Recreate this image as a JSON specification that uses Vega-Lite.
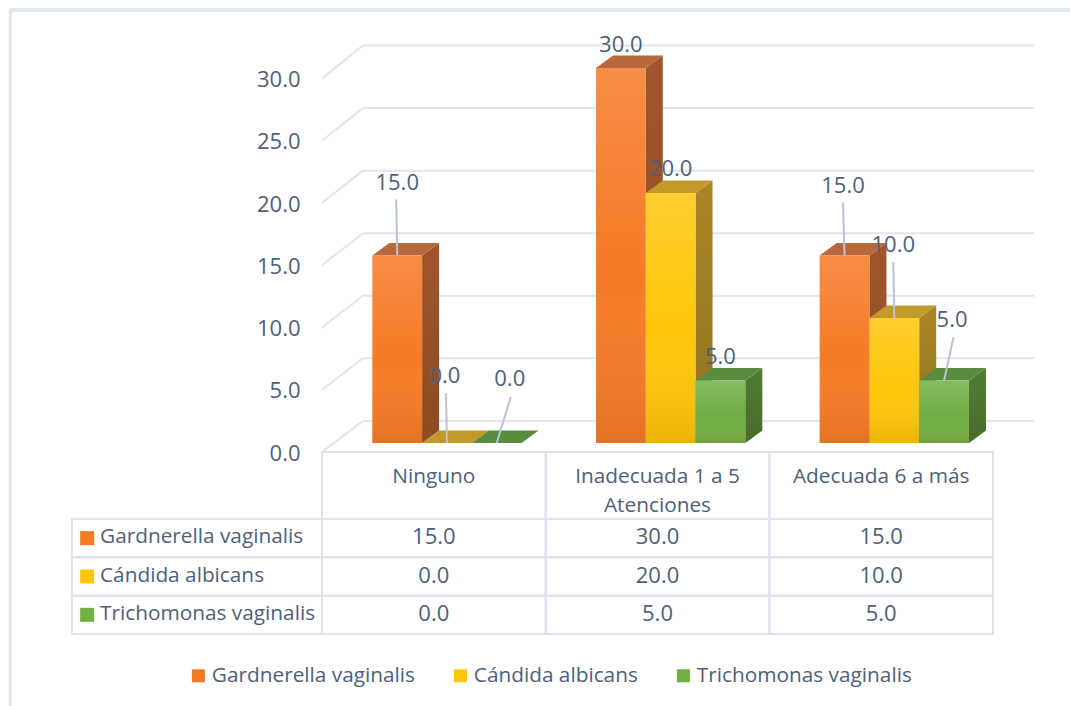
{
  "$schema": "https://vega.github.io/schema/vega-lite/v6.json",
  "width": 1070,
  "height": 706,
  "padding": 0,
  "autosize": {"type": "none"},
  "background": "white",
  "config": {
    "view": {"stroke": null},
    "font": "Open Sans",
    "text": {"font": "Open Sans", "fontSize": 20.8, "fill": "#4F6079"}
  },
  "datasets": {
    "infecciones": [
      {"atencion": "Ninguno", "germen": "Gardnerella vaginalis", "valor": 15},
      {"atencion": "Ninguno", "germen": "Cándida albicans", "valor": 0},
      {"atencion": "Ninguno", "germen": "Trichomonas vaginalis", "valor": 0},
      {"atencion": "Inadecuada 1 a 5 Atenciones", "germen": "Gardnerella vaginalis", "valor": 30},
      {"atencion": "Inadecuada 1 a 5 Atenciones", "germen": "Cándida albicans", "valor": 20},
      {"atencion": "Inadecuada 1 a 5 Atenciones", "germen": "Trichomonas vaginalis", "valor": 5},
      {"atencion": "Adecuada 6 a más", "germen": "Gardnerella vaginalis", "valor": 15},
      {"atencion": "Adecuada 6 a más", "germen": "Cándida albicans", "valor": 10},
      {"atencion": "Adecuada 6 a más", "germen": "Trichomonas vaginalis", "valor": 5}
    ],
    "marcas": [
      {"marca": 0}, {"marca": 5}, {"marca": 10}, {"marca": 15}, {"marca": 20}, {"marca": 25}, {"marca": 30}
    ]
  },
  "layer": [
    {
      "description": "Marco, paredes del gráfico y eje de valores",
      "data": {"name": "marcas"},
      "transform": [{"calculate": "datum.marca * 1.005 + 2.5", "as": "fondo"}],
      "layer": [
        {
          "mark": {"type": "rule", "stroke": "#E1E5EE", "strokeWidth": 2},
          "encoding": {
            "x": {"datum": 0, "type": "quantitative", "axis": null, "scale": {"domain": [0, 3], "range": [322, 993], "nice": false}},
            "x2": {"datum": 0.183},
            "y": {
              "field": "marca",
              "type": "quantitative",
              "scale": {"domain": [0, 30], "range": [452, 78.5], "nice": false},
              "axis": {
                "values": [0, 5, 10, 15, 20, 25, 30],
                "format": ".1f",
                "title": null,
                "orient": "left",
                "offset": -300,
                "labelPadding": 0,
                "ticks": false,
                "domain": false,
                "grid": false,
                "labelOffset": 1,
                "labelFont": "Open Sans",
                "labelFontSize": 22,
                "labelColor": "#4F6079"
              }
            },
            "y2": {"field": "fondo"}
          }
        },
        {
          "mark": {"type": "rule", "stroke": "#E3E7F0", "strokeWidth": 2.5},
          "encoding": {
            "x": {"datum": -1.394, "type": "quantitative", "axis": null},
            "x2": {"datum": 3.35},
            "y": {"datum": 35.5, "type": "quantitative"}
          }
        },
        {
          "mark": {"type": "rule", "stroke": "#E3E7F0", "strokeWidth": 2.5},
          "encoding": {
            "x": {"datum": -1.394, "type": "quantitative", "axis": null},
            "y": {"datum": 35.5, "type": "quantitative"},
            "y2": {"datum": -20.4}
          }
        },
        {
          "mark": {"type": "rule", "stroke": "#E1E5EE", "strokeWidth": 2},
          "encoding": {
            "x": {"datum": 0.183, "type": "quantitative", "axis": null},
            "x2": {"datum": 3.184},
            "y": {"field": "fondo", "type": "quantitative"}
          }
        }
      ]
    },
    {
      "description": "Barras en perspectiva: caras laterales, superiores y frontales, con sus etiquetas",
      "data": {"name": "infecciones"},
      "transform": [
        {"calculate": "indexof(['Ninguno','Inadecuada 1 a 5 Atenciones','Adecuada 6 a más'], datum.atencion)", "as": "c"},
        {"calculate": "indexof(['Gardnerella vaginalis','Cándida albicans','Trichomonas vaginalis'], datum.germen)", "as": "s"},
        {"calculate": "datum.c + 0.225 + datum.s * 0.2225", "as": "xi"},
        {"calculate": "datum.xi + 0.2225", "as": "xd"},
        {"calculate": "datum.xi + 0.11125", "as": "xm"},
        {"calculate": "datum.atencion + datum.germen", "as": "clave"}
      ],
      "resolve": {"scale": {"color": "independent"}},
      "layer": [
        {
          "transform": [
            {"calculate": "[0, 1]", "as": "p"},
            {"flatten": ["p"]},
            {"calculate": "datum.xd + datum.p * 0.076", "as": "xs"},
            {"calculate": "datum.valor + datum.p", "as": "ys"}
          ],
          "layer": [
            {
              "mark": {"type": "area", "orient": "vertical", "interpolate": "linear"},
              "encoding": {
                "x": {"field": "xs", "type": "quantitative", "axis": null, "stack": null},
                "y": {"field": "ys", "type": "quantitative", "axis": null, "stack": null, "scale": {"domain": [0, 30], "range": [443, 68], "nice": false}},
                "y2": {"field": "p"},
                "detail": {"field": "clave"},
                "color": {
                  "field": "germen",
                  "legend": null,
                  "scale": {
                    "domain": ["Gardnerella vaginalis", "Cándida albicans", "Trichomonas vaginalis"],
                    "range": ["#A0562C", "#A98726", "#4F7D36"]
                  }
                }
              }
            },
            {
              "mark": {
                "type": "area",
                "orient": "vertical",
                "interpolate": "linear",
                "fill": {
                  "x1": 0, "y1": 0, "x2": 0, "y2": 1,
                  "gradient": "linear",
                  "stops": [
                    {"offset": 0, "color": "rgba(60,30,0,0)"},
                    {"offset": 1, "color": "rgba(60,30,0,0.2)"}
                  ]
                }
              },
              "encoding": {
                "x": {"field": "xs", "type": "quantitative", "axis": null, "stack": null},
                "y": {"field": "ys", "type": "quantitative", "axis": null, "stack": null},
                "y2": {"field": "p"},
                "detail": {"field": "clave"}
              }
            }
          ]
        },
        {
          "transform": [
            {"calculate": "[0, 1]", "as": "p"},
            {"flatten": ["p"]},
            {"calculate": "datum.xi + datum.p * 0.076", "as": "xa"},
            {"calculate": "datum.xd + datum.p * 0.076", "as": "xb"},
            {"calculate": "datum.valor + datum.p", "as": "ys"}
          ],
          "mark": {"type": "area", "orient": "horizontal", "interpolate": "linear"},
          "encoding": {
            "x": {"field": "xa", "type": "quantitative", "axis": null, "stack": null},
            "x2": {"field": "xb"},
            "y": {"field": "ys", "type": "quantitative", "axis": null, "stack": null},
            "detail": {"field": "clave"},
            "color": {
              "field": "germen",
              "legend": null,
              "scale": {
                "domain": ["Gardnerella vaginalis", "Cándida albicans", "Trichomonas vaginalis"],
                "range": ["#B8693C", "#C19A2A", "#5A8C40"]
              }
            }
          }
        },
        {
          "mark": {"type": "rect"},
          "encoding": {
            "x": {"field": "xi", "type": "quantitative", "axis": null},
            "x2": {"field": "xd"},
            "y": {"field": "valor", "type": "quantitative", "axis": null, "stack": null},
            "y2": {"datum": 0},
            "color": {
              "field": "germen",
              "title": null,
              "scale": {
                "domain": ["Gardnerella vaginalis", "Cándida albicans", "Trichomonas vaginalis"],
                "range": ["#F67A26", "#FFC60A", "#70B044"]
              },
              "legend": {
                "orient": "none",
                "legendX": 188,
                "legendY": 665,
                "direction": "horizontal",
                "symbolType": "square",
                "symbolSize": 170,
                "symbolStrokeWidth": 0,
                "symbolOpacity": 1,
                "labelFont": "Open Sans",
                "labelFontSize": 20.8,
                "labelColor": "#4F6079",
                "labelOffset": 3,
                "columnPadding": 35,
                "labelLimit": 300
              }
            }
          }
        },
        {
          "mark": {
            "type": "rect",
            "fill": {
              "x1": 0, "y1": 0, "x2": 0, "y2": 1,
              "gradient": "linear",
              "stops": [
                {"offset": 0, "color": "rgba(255,255,255,0.15)"},
                {"offset": 0.55, "color": "rgba(255,255,255,0)"},
                {"offset": 1, "color": "rgba(120,60,0,0.14)"}
              ]
            }
          },
          "encoding": {
            "x": {"field": "xi", "type": "quantitative", "axis": null},
            "x2": {"field": "xd"},
            "y": {"field": "valor", "type": "quantitative", "axis": null, "stack": null},
            "y2": {"datum": 0}
          }
        },
        {
          "transform": [
            {"filter": "datum.c != 1"},
            {"calculate": "[[[-1,56],[-1,50],[14,46]],[],[[-1.5,53],[-1,56],[9.5,43.5]]][datum.c][datum.s]", "as": "g"},
            {"calculate": "datum.xm + datum.g[0] / 223.67", "as": "xg"},
            {"calculate": "datum.valor + datum.g[1] / 12.5", "as": "yg"}
          ],
          "mark": {"type": "rule", "stroke": "#B8C4D6", "strokeWidth": 2},
          "encoding": {
            "x": {"field": "xm", "type": "quantitative", "axis": null},
            "x2": {"field": "xg"},
            "y": {"field": "valor", "type": "quantitative", "axis": null, "stack": null},
            "y2": {"field": "yg"}
          }
        },
        {
          "transform": [
            {"calculate": "[[[0,74],[-2,68],[13,65]],[[0,24],[0,25],[0,24.5]],[[-1.5,71],[-1,74],[8,61.5]]][datum.c][datum.s]", "as": "e"},
            {"calculate": "datum.xm + datum.e[0] / 223.67", "as": "xe"},
            {"calculate": "datum.valor + datum.e[1] / 12.5", "as": "ye"}
          ],
          "mark": {"type": "text", "align": "center", "baseline": "middle", "fontSize": 22, "dy": 1},
          "encoding": {
            "x": {"field": "xe", "type": "quantitative", "axis": null},
            "y": {"field": "ye", "type": "quantitative", "axis": null, "stack": null},
            "text": {"field": "valor", "type": "quantitative", "format": ".1f"}
          }
        }
      ]
    },
    {
      "description": "Encabezado de la tabla de datos",
      "data": {"name": "infecciones"},
      "transform": [
        {"filter": "datum.germen == 'Gardnerella vaginalis'"},
        {"calculate": "indexof(['Ninguno','Inadecuada 1 a 5 Atenciones','Adecuada 6 a más'], datum.atencion)", "as": "c"},
        {"calculate": "datum.c + 1", "as": "c2"},
        {"calculate": "datum.c + 0.5", "as": "cm"},
        {"calculate": "replace(datum.atencion, ' Atenciones', '\\nAtenciones')", "as": "rotulo"}
      ],
      "layer": [
        {
          "mark": {"type": "rect", "fill": "transparent", "stroke": "#DEE3EC", "strokeWidth": 2},
          "encoding": {
            "x": {"field": "c", "type": "quantitative", "axis": null},
            "x2": {"field": "c2"},
            "y": {"datum": "encabezado", "type": "nominal", "axis": null, "scale": {"type": "band", "domain": ["encabezado"], "range": [452, 519], "paddingInner": 0, "paddingOuter": 0}}
          }
        },
        {
          "mark": {"type": "text", "align": "center", "baseline": "top", "dy": 15, "lineBreak": "\n", "lineHeight": 29},
          "encoding": {
            "x": {"field": "cm", "type": "quantitative", "axis": null},
            "y": {"datum": "encabezado", "type": "nominal", "axis": null, "bandPosition": 0},
            "text": {"field": "rotulo"}
          }
        }
      ]
    },
    {
      "description": "Filas de la tabla de datos, con la clave de color de cada germen",
      "data": {"name": "infecciones"},
      "transform": [
        {"calculate": "indexof(['Ninguno','Inadecuada 1 a 5 Atenciones','Adecuada 6 a más'], datum.atencion)", "as": "c"},
        {"calculate": "datum.c + 1", "as": "c2"},
        {"calculate": "datum.c + 0.5", "as": "cm"}
      ],
      "layer": [
        {
          "mark": {"type": "rect", "fill": "transparent", "stroke": "#DEE3EC", "strokeWidth": 2},
          "encoding": {
            "x": {"field": "c", "type": "quantitative", "axis": null},
            "x2": {"field": "c2"},
            "y": {"field": "germen", "type": "nominal", "axis": null, "scale": {"type": "band", "domain": ["Gardnerella vaginalis", "Cándida albicans", "Trichomonas vaginalis"], "range": [519, 634], "paddingInner": 0, "paddingOuter": 0}}
          }
        },
        {
          "mark": {"type": "text", "align": "center", "baseline": "middle", "dy": -1, "fontSize": 22},
          "encoding": {
            "x": {"field": "cm", "type": "quantitative", "axis": null},
            "y": {"field": "germen", "type": "nominal", "axis": null},
            "text": {"field": "valor", "type": "quantitative", "format": ".1f"}
          }
        },
        {
          "transform": [{"filter": "datum.c == 0"}],
          "layer": [
            {
              "mark": {"type": "rect", "fill": "transparent", "stroke": "#DEE3EC", "strokeWidth": 2},
              "encoding": {
                "x": {"datum": -1.118, "type": "quantitative", "axis": null},
                "x2": {"datum": 0},
                "y": {"field": "germen", "type": "nominal", "axis": null}
              }
            },
            {
              "mark": {"type": "point", "shape": "square", "filled": true, "size": 196, "opacity": 1},
              "encoding": {
                "x": {"datum": -1.05, "type": "quantitative", "axis": null},
                "y": {"field": "germen", "type": "nominal", "axis": null},
                "color": {
                  "field": "germen",
                  "legend": null,
                  "scale": {
                    "domain": ["Gardnerella vaginalis", "Cándida albicans", "Trichomonas vaginalis"],
                    "range": ["#F67A26", "#FFC60A", "#70B044"]
                  }
                }
              }
            },
            {
              "mark": {"type": "text", "align": "left", "baseline": "middle", "dy": -1},
              "encoding": {
                "x": {"datum": -0.9925, "type": "quantitative", "axis": null},
                "y": {"field": "germen", "type": "nominal", "axis": null},
                "text": {"field": "germen"}
              }
            }
          ]
        }
      ]
    }
  ],
  "resolve": {"scale": {"y": "independent", "color": "independent"}}
}
